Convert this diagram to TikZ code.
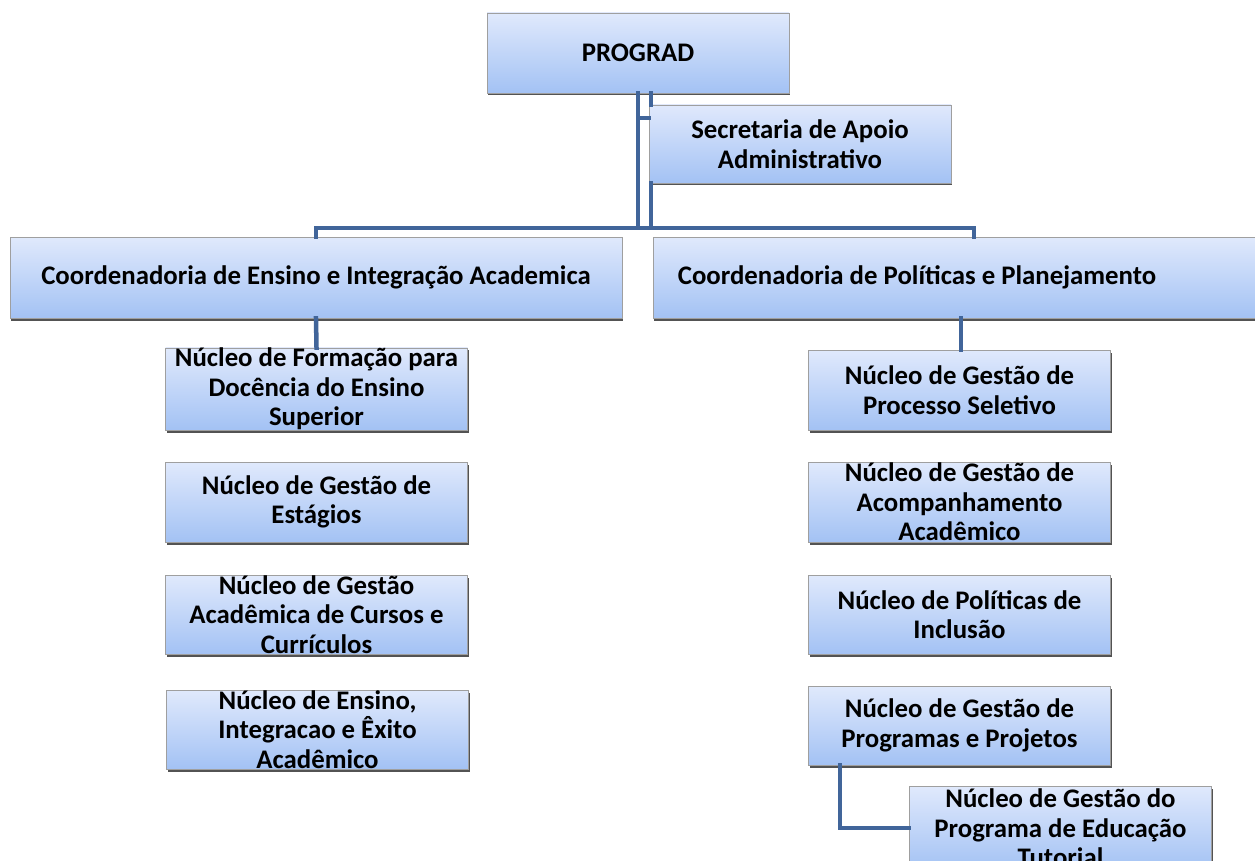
\documentclass[tikz,border=0pt]{standalone}
\usepackage{fontspec}
\setmainfont{Carlito}
\usepackage{tikz}
\usetikzlibrary{positioning, shadows}

\definecolor{boxtop}{HTML}{E0E9FC}
\definecolor{boxbot}{HTML}{A3C2F4}
\definecolor{linkblue}{HTML}{41659A}

\tikzset{
  unit/.style={rectangle, draw=gray!75, line width=0.8pt, top color=boxtop, bottom color=boxbot,
    minimum width=302pt, minimum height=80pt, inner sep=0pt, align=center,
    font=\fontsize{26.8}{29.5}\selectfont\bfseries,
    drop shadow={shadow xshift=1pt, shadow yshift=-2.5pt, fill=black!75, opacity=0.9}},
  wide/.style={unit, minimum width=612pt, minimum height=81pt},
  link/.style={draw=linkblue, line width=4.5pt, line cap=rect}
}

\begin{document}
\begin{tikzpicture}[x=1pt, y=-1pt, line join=miter]
        % canvas
        \useasboundingbox (0,0) rectangle (1255,861);
        \clip (0,0) rectangle (1255,861);

        % top level
        \node[unit] (prograd)    at (638,53)  {PROGRAD};
        \node[unit, minimum height=78pt] (secretaria) at (800,144) {Secretaria de Apoio\\Administrativo};

        % coordenadorias
        \node[wide] (coordEnsino)    at (316,277.5) {Coordenadoria de Ensino e Integração Academica};
        \node[wide] (coordPoliticas) at (959,277.5) {\hspace*{-84pt}Coordenadoria de Políticas e Planejamento};

        % nucleos (left)
        \node[unit, minimum height=82pt] (nucFormacao) at (316.5,389) {Núcleo de Formação para\\Docência do Ensino\\Superior};
        \node[unit] (nucEstagios) at (316.5,502) {Núcleo de Gestão de\\Estágios};
        \node[unit, minimum height=79pt] (nucCursos)   at (316.5,614.5) {Núcleo de Gestão\\Acadêmica de Cursos e\\Currículos};
        \node[unit, minimum height=79pt] (nucExito)    at (317.5,729.5) {Núcleo de Ensino,\\Integracao e Êxito\\Acadêmico};

        % nucleos (right)
        \node[unit] (nucSeletivo) at (959.5,390) {Núcleo de Gestão de\\Processo Seletivo};
        \node[unit] (nucAcomp)    at (959.5,502) {Núcleo de Gestão de\\Acompanhamento\\Acadêmico};
        \node[unit, minimum height=79pt] (nucInclusao) at (959.5,614.5) {Núcleo de Políticas de\\Inclusão};
        \node[unit, minimum height=79pt] (nucProjetos) at (959.5,725.5) {Núcleo de Gestão de\\Programas e Projetos};
        \node[unit, minimum height=84pt] (nucPET)      at (1060.5,828) {Núcleo de Gestão do\\Programa de Educação\\Tutorial};

        % connectors
        \coordinate (bar)  at (0,228);
        \coordinate (stub) at ([yshift=26pt]secretaria.west);
        \begin{scope}[on background layer/.try]
        \draw[link] (prograd.south) -- (prograd.south |- bar);
        \draw[link] ([xshift=13]prograd.south) -- ([xshift=13]prograd.south |- secretaria.north);
        \draw[link] ([xshift=13]prograd.south |- secretaria.south) -- ([xshift=13]prograd.south |- bar);
        \draw[link] (prograd.south |- stub) -- (stub);
        \draw[link] (coordEnsino.north) -- (coordEnsino.north |- bar) -- ([xshift=15]coordPoliticas.north |- bar)
                    -- ([xshift=15]coordPoliticas.north);
        \draw[link] (coordEnsino.south) -- (nucFormacao.north);
        \draw[link] ([xshift=2]coordPoliticas.south) -- ([xshift=2]coordPoliticas.south |- nucSeletivo.north);
        \draw[link] ([xshift=32]nucProjetos.south west) |- (nucPET.west);
        \end{scope}
\end{tikzpicture}
\end{document}
